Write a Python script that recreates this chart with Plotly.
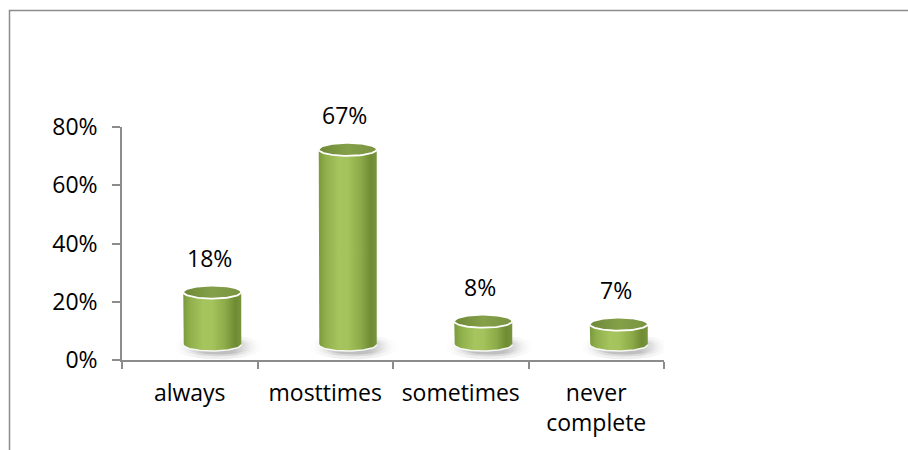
import numpy as np
import plotly.graph_objects as go

# Survey shares per answer
categories = ["always", "mosttimes", "sometimes", "never<br>complete"]
values = [0.18, 0.67, 0.08, 0.07]
y_ticks = [0.0, 0.2, 0.4, 0.6, 0.8]
y_tick_labels = ["0%", "20%", "40%", "60%", "80%"]

W, H = 908, 450
M_L, M_R, M_T, M_B = 122, 244, 127, 90
KX = (W - M_L - M_R) / 4.0          # px per category step
KY = (H - M_T - M_B) / 0.8          # px per unit of share

# pseudo-3D geometry (pixels converted to data units)
DX = 22.5 / KX                      # floor depth offset to the right
BASE = 15.5 / KY                    # floor depth offset upwards
RX = 29.0 / KX                      # cylinder half width
RY = 6.5 / KY                       # ellipse half height

FONT = "Open Sans"
FSIZE = 23

BODY_SCALE = [
    [0.0, "#7b993d"], [0.12, "#90b04c"], [0.35, "#a6c55f"], [0.5, "#a4c35c"],
    [0.72, "#8dac49"], [0.9, "#6f8b33"], [1.0, "#78953e"],
]
TOP_SCALE = [[0.0, "#6f8838"], [0.5, "#84a048"], [1.0, "#7a9341"]]

t_full = np.linspace(0, 2 * np.pi, 90)
t_front = np.linspace(np.pi, 2 * np.pi, 50)

fig = go.Figure()

for i, v in enumerate(values):
    cx = i + DX
    top = BASE + v

    # soft floor shadow
    for sx, sy, a in [(1.55, 1.9, 0.11), (1.35, 1.45, 0.17), (1.15, 1.15, 0.24)]:
        fig.add_trace(go.Scatter(
            x=cx + 6 / KX + RX * sx * np.cos(t_full),
            y=BASE - 2.5 / KY + RY * sy * np.sin(t_full),
            mode="lines", line=dict(width=0), fill="toself",
            fillgradient=dict(type="horizontal", colorscale=[
                [0.0, "rgba(120,120,120,0)"], [0.3, f"rgba(110,110,110,{a})"],
                [0.7, f"rgba(110,110,110,{a})"], [1.0, "rgba(120,120,120,0)"]]),
            hoverinfo="skip", showlegend=False))

    # cylinder body
    bx = np.concatenate([[cx - RX], cx + RX * np.cos(t_front), [cx + RX, cx - RX]])
    by = np.concatenate([[top], BASE + RY * np.sin(t_front), [top, top]])
    fig.add_trace(go.Scatter(
        x=bx, y=by, mode="lines", line=dict(width=0), fill="toself",
        fillgradient=dict(type="horizontal", colorscale=BODY_SCALE),
        hoverinfo="skip", showlegend=False))

    # bottom rim highlight
    fig.add_trace(go.Scatter(
        x=cx + RX * np.cos(t_front), y=BASE + RY * np.sin(t_front),
        mode="lines", line=dict(color="rgba(255,255,255,0.9)", width=1.5),
        hoverinfo="skip", showlegend=False))

    # top cap
    fig.add_trace(go.Scatter(
        x=cx + RX * np.cos(t_full), y=top + RY * np.sin(t_full),
        mode="lines", line=dict(color="#ffffff", width=1.8), fill="toself",
        fillgradient=dict(type="horizontal", colorscale=TOP_SCALE),
        hoverinfo="skip", showlegend=False))

    # value label
    fig.add_annotation(
        x=cx, y=top, xshift=-3, yshift=34, text=f"{round(v * 100)}%",
        showarrow=False, font=dict(family=FONT, size=FSIZE, color="#000000"),
        xanchor="center", yanchor="middle")

# outer frame
fig.add_shape(type="rect", xref="paper", yref="paper",
              x0=(9.5 - M_L) / (W - M_L - M_R), x1=1.5,
              y0=-0.6, y1=(H - M_B - 10.5) / (H - M_T - M_B),
              line=dict(color="#8c8c8c", width=1.5), layer="below")

fig.update_layout(
    width=W, height=H, margin=dict(l=M_L, r=M_R, t=M_T, b=M_B),
    paper_bgcolor="#ffffff", plot_bgcolor="#ffffff", showlegend=False,
    font=dict(family=FONT, size=FSIZE, color="#000000"),
    xaxis=dict(
        range=[-0.5, 3.5], showgrid=False, zeroline=False,
        showline=True, linecolor="#8c8c8c", linewidth=1.5,
        tickvals=list(range(len(categories))), ticktext=categories,
        ticks="", ticklabelstandoff=12,
        minor=dict(tickvals=[-0.5, 0.5, 1.5, 2.5, 3.5], ticks="outside",
                   ticklen=7, tickwidth=1.5, tickcolor="#8c8c8c"),
        fixedrange=True),
    yaxis=dict(
        range=[0, 0.8], showgrid=False, zeroline=False,
        showline=True, linecolor="#8c8c8c", linewidth=1.5,
        tickvals=y_ticks, ticktext=y_tick_labels,
        ticks="outside", ticklen=8, tickwidth=1.5, tickcolor="#8c8c8c",
        ticklabelstandoff=10, fixedrange=True),
)

fig.write_html("out.html")
